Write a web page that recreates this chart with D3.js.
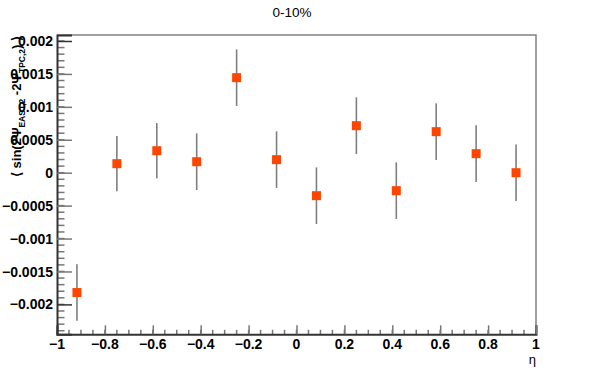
<!DOCTYPE html>
<html>
<head>
<meta charset="utf-8">
<script src="https://cdn.jsdelivr.net/npm/d3@7"></script>
<style>
  body { margin: 0; background: #fff; }
  svg { display: block; font-family: "Liberation Sans", Arial, sans-serif; }
</style>
</head>
<body>
<svg></svg>
<script>
// data
const etaBins = [-0.9167, -0.75, -0.5833, -0.4167, -0.25, -0.0833, 0.0833, 0.25, 0.4167, 0.5833, 0.75, 0.9167];
const sinValues = [-0.00182, 0.000137, 0.000334, 0.000167, 0.001443, 0.000198, -0.000349, 0.000714, -0.000273, 0.000623, 0.000289, 0.0];
const sinErrors = [0.00043, 0.00042, 0.00042, 0.00043, 0.00043, 0.00043, 0.00043, 0.00043, 0.00043, 0.00043, 0.00043, 0.00043];
const xMajorTicks = [-1, -0.8, -0.6, -0.4, -0.2, 0, 0.2, 0.4, 0.6, 0.8, 1];
const yMajorTicks = [-0.002, -0.0015, -0.001, -0.0005, 0, 0.0005, 0.001, 0.0015, 0.002];

const size = { w: 595, h: 373 };
const frame = { l: 57, r: 536, t: 35, b: 334.3 };

const svg = d3.select("svg").attr("width", size.w).attr("height", size.h);

const x = d3.scaleLinear().domain([-1, 1]).range([frame.l, frame.r]);
const y = d3.scaleLinear().domain([-0.002454, 0.002091]).range([frame.b, frame.t]);

// minor ticks: x every 0.05, y every 0.0001
const xMinor = d3.range(-20, 21).map((i) => i * 0.05);
const yMinor = d3.range(-24, 21).map((i) => i * 0.0001);

const fmt = d3.format("~g");

// top and right frame
svg.append("path")
  .attr("d", `M${frame.l},${frame.t}H${frame.r}V${frame.b}`)
  .attr("fill", "none")
  .attr("stroke", "#808080")
  .attr("stroke-width", 1.5);

// minor ticks
svg.append("g").selectAll("line")
  .data(xMinor)
  .join("line")
  .attr("x1", (d) => x(d)).attr("x2", (d) => x(d))
  .attr("y1", frame.b).attr("y2", frame.b - 4.5)
  .attr("stroke", "#777").attr("stroke-width", 1.5);

svg.append("g").selectAll("line")
  .data(yMinor)
  .join("line")
  .attr("y1", (d) => y(d)).attr("y2", (d) => y(d))
  .attr("x1", frame.l).attr("x2", frame.l + 7.5)
  .attr("stroke", "#777").attr("stroke-width", 1.5);

// x axis
const xAxis = svg.append("g")
  .attr("transform", `translate(0,${frame.b})`)
  .call(d3.axisTop(x).tickValues(xMajorTicks).tickSize(9).tickFormat(""));
xAxis.select(".domain").attr("stroke", "#333").attr("stroke-width", 2);
xAxis.selectAll(".tick line").attr("stroke", "#777").attr("stroke-width", 1.5);

svg.append("g").selectAll("text")
  .data(xMajorTicks)
  .join("text")
  .attr("x", (d) => x(d))
  .attr("y", 348.5)
  .attr("text-anchor", "middle")
  .attr("font-size", 14)
  .attr("font-weight", "bold")
  .text((d) => fmt(d));

// y axis
const yAxis = svg.append("g")
  .attr("transform", `translate(${frame.l},0)`)
  .call(d3.axisRight(y).tickValues(yMajorTicks).tickSize(15).tickFormat(""));
yAxis.select(".domain").attr("stroke", "#333").attr("stroke-width", 2);
yAxis.selectAll(".tick line")
  .attr("stroke", (d) => (Math.abs(d) === 0.002 ? "#333" : "#777"))
  .attr("stroke-width", 1.5);

svg.append("g").selectAll("text")
  .data(yMajorTicks)
  .join("text")
  .attr("x", 53)
  .attr("y", (d) => y(d))
  .attr("dy", "0.36em")
  .attr("text-anchor", "end")
  .attr("font-size", 14)
  .attr("font-weight", "bold")
  .text((d) => fmt(d));

// error bars and markers
const points = etaBins.map((e, i) => ({ eta: e, v: sinValues[i], err: sinErrors[i] }));

svg.append("g").selectAll("line")
  .data(points)
  .join("line")
  .attr("x1", (d) => x(d.eta)).attr("x2", (d) => x(d.eta))
  .attr("y1", (d) => y(d.v + d.err)).attr("y2", (d) => y(d.v - d.err))
  .attr("stroke", "#7f7f7f").attr("stroke-width", 1.6);

svg.append("g").selectAll("rect")
  .data(points)
  .join("rect")
  .attr("x", (d) => x(d.eta) - 4.5)
  .attr("y", (d) => y(d.v) - 4.5)
  .attr("width", 9).attr("height", 9)
  .attr("fill", "#ff4500");

// titles
svg.append("text")
  .attr("x", 292).attr("y", 16.5)
  .attr("text-anchor", "middle")
  .attr("font-size", 13.5)
  .text("0-10%");

svg.append("text")
  .attr("x", 536).attr("y", 364)
  .attr("text-anchor", "end")
  .attr("font-size", 13)
  .text("η");

const yTitle = svg.append("text")
  .attr("transform", "translate(21,36) rotate(-90)")
  .attr("text-anchor", "end")
  .attr("font-size", 13)
  .attr("font-weight", "bold");
yTitle.append("tspan").text("⟨ sin(2Ψ");
yTitle.append("tspan").attr("font-size", 8.5).attr("dy", 4).text("EAST,2");
yTitle.append("tspan").attr("dy", -4).text(" -2Ψ");
yTitle.append("tspan").attr("font-size", 8.5).attr("dy", 4).text("TPC,2");
yTitle.append("tspan").attr("dy", -4).text(") ⟩");
</script>
</body>
</html>
